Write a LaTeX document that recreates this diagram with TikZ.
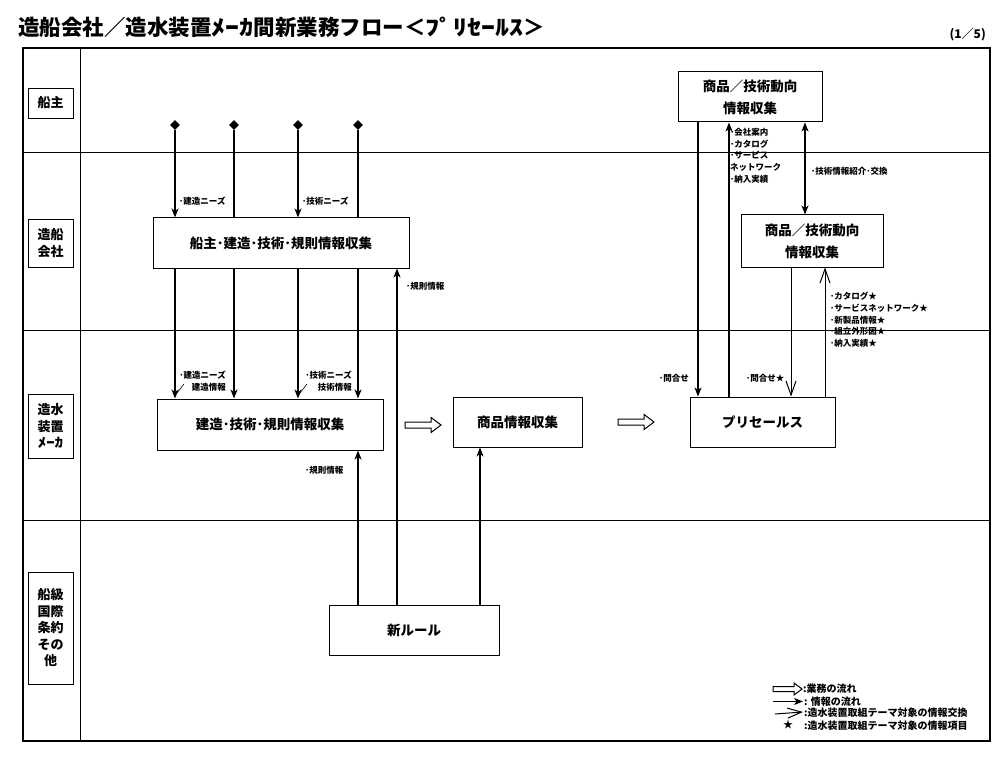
\documentclass[tikz,border=0pt]{standalone}
\usepackage{fontspec}
\setmainfont{Noto Sans CJK JP}
\usetikzlibrary{arrows.meta,shapes.geometric}
\newcommand{\hwk}[1]{{\addfontfeature{FakeStretch=1.3}#1}}
\begin{document}
\begin{tikzpicture}[x=1pt,y=-1pt,
  box/.style={draw, line width=1pt, fill=white, inner sep=0pt, align=center, font=\fontsize{13.5}{22}\selectfont\bfseries},
  lanebox/.style={draw, line width=0.8pt, fill=white, inner sep=0pt, align=center, font=\fontsize{13}{16.5}\selectfont\bfseries},
  lane/.style={line width=0.8pt},
  info/.style={line width=1.1pt, -{Stealth[length=9pt,width=7pt,inset=2.5pt]}},
  infoboth/.style={line width=1.1pt, {Stealth[length=9pt,width=7pt,inset=2.5pt]}-{Stealth[length=9pt,width=7pt,inset=2.5pt]}},
  plain/.style={line width=1.1pt},
  xch/.style={line width=1pt, -{Straight Barb[length=14pt,width=10pt,line width=1pt]}},
  lbl/.style={inner sep=0pt, anchor=west, align=left, font=\fontsize{8.5}{11.7}\selectfont\bfseries},
  lgd/.style={inner sep=0pt, anchor=west, font=\fontsize{10}{12}\selectfont\bfseries},
  dia/.style={diamond, fill=black, inner sep=0pt, minimum size=10pt},
  flowarrow/.pic={\draw[line width=1pt,fill=white] (0,-3)--(26,-3)--(26,-7.5)--(36,0)--(26,7.5)--(26,3)--(0,3)--cycle;},
  smallflow/.pic={\draw[line width=1pt,fill=white] (0,-2.5)--(21,-2.5)--(21,-6)--(29,0)--(21,6)--(21,2.5)--(0,2.5)--cycle;}
]
\useasboundingbox (0,0) rectangle (1008,767);

% title
\node[anchor=west, inner sep=0pt, font=\fontsize{21.5}{24}\selectfont\bfseries] (title) at (18,27) {造船会社／造水装置\hwk{ﾒｰｶ}間新業務フロー＜\hwk{ﾌﾟﾘｾｰﾙｽ}＞};
\node[anchor=east, inner sep=0pt, font=\fontsize{12}{14}\selectfont\bfseries] (page) at (986,35) {(1／5)};

% frame and lanes
\draw[line width=1.3pt] (23,48) rectangle (990,741);
\draw[lane] (80,48) -- (80,741);
\draw[lane] (23,152) -- (990,152);
\draw[lane] (23,330) -- (990,330);
\draw[lane] (23,520) -- (990,520);

% lane labels
\node[lanebox, minimum width=45pt, minimum height=30pt] (L1) at (50.5,103) {船主};
\node[lanebox, minimum width=45pt, minimum height=48pt] (L2) at (50.5,243) {造船\\会社};
\node[lanebox, minimum width=45pt, minimum height=64pt] (L3) at (50.5,426) {造水\\装置\\\hwk{ﾒｰｶ}};
\node[lanebox, minimum width=45pt, minimum height=112pt] (L4) at (50.5,628) {船級\\国際\\条約\\その\\他};

% process boxes
\node[box, minimum width=256pt, minimum height=50pt] (b1) at (281,243) {船主･建造･技術･規則情報収集};
\node[box, minimum width=226pt, minimum height=51pt] (b2) at (270,424.5) {建造･技術･規則情報収集};
\node[box, minimum width=129pt, minimum height=50pt] (b3) at (517.5,422) {商品情報収集};
\node[box, minimum width=145pt, minimum height=50pt] (b4) at (762.5,422) {プリセールス};
\node[box, minimum width=170pt, minimum height=50pt] (b5) at (414,630) {新ルール};
\node[box, minimum width=144pt, minimum height=50pt] (b6) at (750,97) {商品／技術動向\\情報収集};
\node[box, minimum width=142pt, minimum height=52pt] (b7) at (812,241) {商品／技術動向\\情報収集};

% business flow arrows
\pic at (405,425) {flowarrow};
\pic at (618,422) {flowarrow};

% column coordinates
\coordinate (c1) at (175,0);
\coordinate (c2) at (234,0);
\coordinate (c3) at (298,0);
\coordinate (c4) at (358,0);
\coordinate (c5) at (397,0);
\coordinate (c6) at (480,0);
\coordinate (r1) at (698,0);
\coordinate (r2) at (729,0);
\coordinate (r3) at (805,0);
\coordinate (r4) at (791,0);
\coordinate (r5) at (825,0);

% diamonds (ship owner sources)
\node[dia] (d1) at (175,125) {};
\node[dia] (d2) at (234,125) {};
\node[dia] (d3) at (298,125) {};
\node[dia] (d4) at (358,125) {};

\draw[info] (d1) -- (d1 |- b1.north);
\draw[plain] (d2) -- (d2 |- b1.north);
\draw[info] (d3) -- (d3 |- b1.north);
\draw[plain] (d4) -- (d4 |- b1.north);
\node[lbl] (n1) at (179,201) {･建造ニーズ};
\node[lbl] (n2) at (302,201) {･技術ニーズ};

% shipyard -> maker
\draw[info] (c1 |- b1.south) -- (c1 |- b2.north);
\draw[info] (c2 |- b1.south) -- (c2 |- b2.north);
\draw[info] (c3 |- b1.south) -- (c3 |- b2.north);
\draw[info] (c4 |- b1.south) -- (c4 |- b2.north);
\node[lbl, anchor=east] (n3) at (226,375) {･建造ニーズ};
\node[lbl, anchor=east] (n4) at (226,387) {建造情報};
\draw[line width=0.6pt] (177,393) -- (184,384);
\node[lbl, anchor=east] (n5) at (352,375) {･技術ニーズ};
\node[lbl, anchor=east] (n6) at (352,387) {技術情報};
\draw[line width=0.6pt] (300,393) -- (307,384);

% new rules
\draw[info] (c4 |- b5.north) -- (c4 |- b2.south);
\draw[info] (c5 |- b5.north) -- (c5 |- b1.south);
\draw[info] (c6 |- b5.north) -- (c6 |- b3.south);
\node[lbl] (n7) at (305,470) {･規則情報};
\node[lbl] (n8) at (406,286) {･規則情報};

% right side
\draw[info] (r1 |- b6.south) -- (r1 |- b4.north);
\node[lbl] (n9) at (659,378) {･問合せ};
\draw[info] (r2 |- b4.north) -- (r2 |- b6.south);
\node[lbl, anchor=north west] (n10) at (730,128) {･会社案内\\･カタログ\\･サービス\\ネットワーク\\･納入実績};
\draw[infoboth] (r3 |- b6.south) -- (r3 |- b7.north);
\node[lbl] (n11) at (811,171) {･技術情報紹介･交換};
\draw[xch] (r4 |- b7.south) -- (r4 |- b4.north);
\node[lbl] (n12) at (746,378) {･問合せ★};
\draw[xch] (r5 |- b4.north) -- (r5 |- b7.south);
\node[lbl, anchor=north west] (n13) at (830,292) {･カタログ★\\･サービスネットワーク★\\･新製品情報★\\･組立外形図★\\･納入実績★};

% legend
\pic at (773,689) {smallflow};
\node[lgd] (g1) at (803,689) {:業務の流れ};
\coordinate (ga1) at (773,701.5);
\coordinate (ga2) at (803,701.5);
\draw[info] (ga1) -- (ga2);
\node[lgd] (g2) at (804,701.5) {: 情報の流れ};
\coordinate (gb1) at (775,714);
\coordinate (gb2) at (803,712);
\draw[xch] (gb1) -- (gb2);
\node[lgd] (g3) at (804,713) {:造水装置取組テーマ対象の情報交換};
\node[inner sep=0pt, font=\fontsize{10}{12}\selectfont] (gstar) at (788,725) {★};
\node[lgd] (g4) at (804,725.5) {:造水装置取組テーマ対象の情報項目};
\end{tikzpicture}
\end{document}
